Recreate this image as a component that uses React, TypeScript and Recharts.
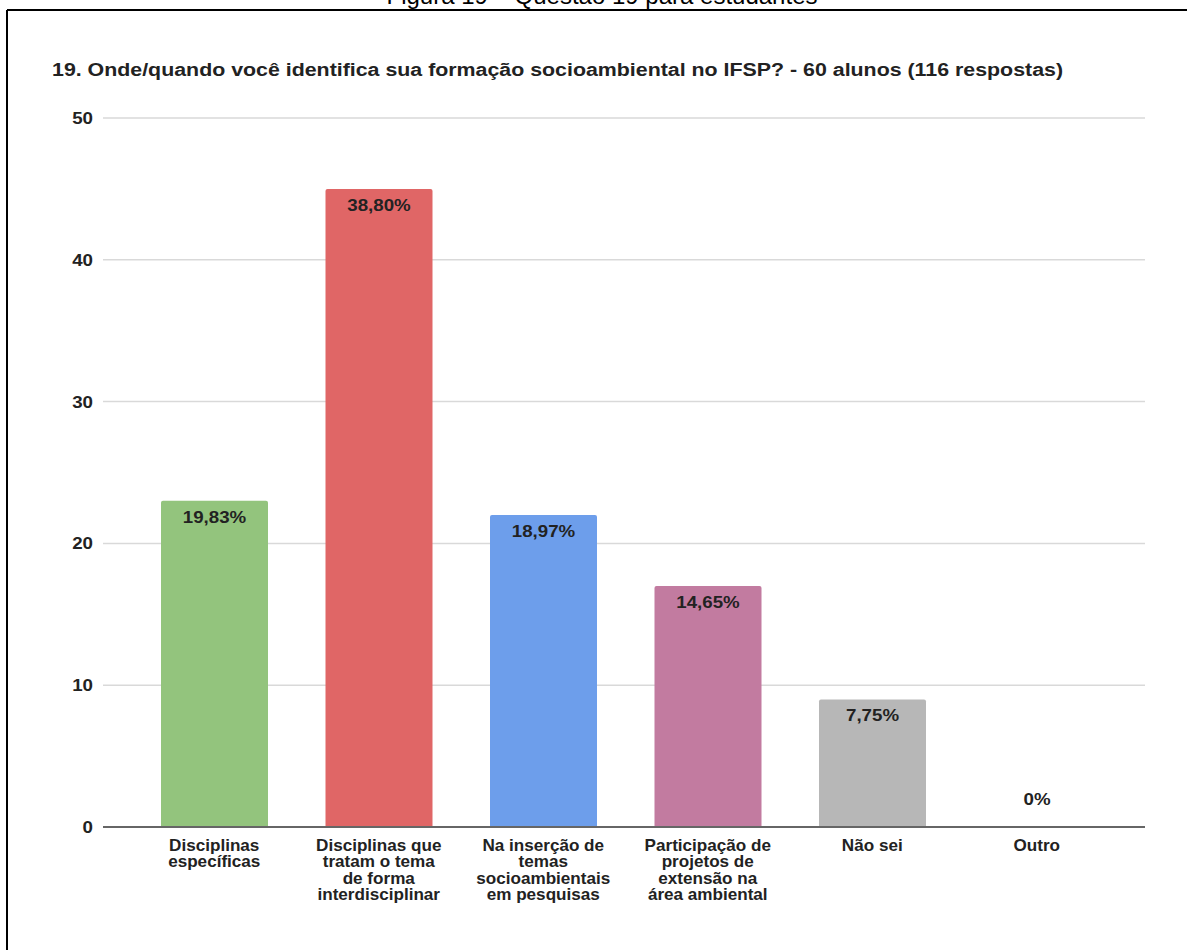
import { BarChart, Bar, XAxis, YAxis, CartesianGrid, Cell } from "recharts";

const categories = [
  "Disciplinas\nespecíficas",
  "Disciplinas que\ntratam o tema\nde forma\ninterdisciplinar",
  "Na inserção de\ntemas\nsocioambientais\nem pesquisas",
  "Participação de\nprojetos de\nextensão na\nárea ambiental",
  "Não sei",
  "Outro",
];
const responses = [23, 45, 22, 17, 9, 0];
const percentLabels = ["19,83%", "38,80%", "18,97%", "14,65%", "7,75%", "0%"];
const barColors = ["#93c47d", "#e06666", "#6d9eeb", "#c27ba0", "#b7b7b7", "#ffffff"];
const yTicks = [0, 10, 20, 30, 40, 50];

const chartTitle =
  "19. Onde/quando você identifica sua formação socioambiental no IFSP? - 60 alunos (116 respostas)";
const caption = "Figura 19 – Questão 19 para estudantes";

const font = "'Liberation Sans', Arial, sans-serif";

const data = categories.map((name, i) => ({
  name,
  value: responses[i],
  pct: percentLabels[i],
}));

// the source image is stretched a little horizontally, so texts get a scaleX
function CategoryTick(props: any) {
  const { x, y, payload } = props;
  const lines = String(payload.value).split("\n");
  return (
    <g transform={`translate(${x},${y}) scale(1.07,1)`}>
      <text
        x={0}
        y={0}
        textAnchor="middle"
        fontFamily={font}
        fontSize={16}
        fontWeight="bold"
        fill="#222"
      >
        {lines.map((line, i) => (
          <tspan key={i} x={0} dy={i === 0 ? 24 : 16.5}>
            {line}
          </tspan>
        ))}
      </text>
    </g>
  );
}

function ValueTick(props: any) {
  const { x, y, payload } = props;
  return (
    <g transform={`translate(${x},${y}) scale(1.1,1)`}>
      <text
        x={0}
        y={6}
        textAnchor="end"
        fontFamily={font}
        fontSize={17}
        fontWeight="bold"
        fill="#222"
      >
        {payload.value}
      </text>
    </g>
  );
}

function PctLabel(props: any) {
  const { x, y, width, index } = props;
  const cx = Number(x) + Number(width) / 2;
  const ty = responses[index] > 0 ? Number(y) + 22 : Number(y) - 21;
  return (
    <g transform={`translate(${cx},${ty}) scale(1.1,1)`}>
      <text
        x={0}
        y={0}
        textAnchor="middle"
        fontFamily={font}
        fontSize={17}
        fontWeight="bold"
        fill="#222"
      >
        {percentLabels[index]}
      </text>
    </g>
  );
}

export default function App() {
  return (
    <div
      style={{
        position: "absolute",
        left: 0,
        top: 0,
        width: 1187,
        height: 950,
        overflow: "hidden",
        background: "#fff",
        fontFamily: font,
      }}
    >
      <svg width={1187} height={950} style={{ position: "absolute", left: 0, top: 0 }}>
        <text
          x={602}
          y={4}
          textAnchor="middle"
          fontFamily={font}
          fontSize={24}
          fill="#000"
        >
          {caption}
        </text>
        <line x1={7} y1={10} x2={1187} y2={10} stroke="#000" strokeWidth={2} />
        <line x1={7} y1={10} x2={7} y2={950} stroke="#000" strokeWidth={2} />
        <text
          x={52}
          y={76}
          fontFamily={font}
          fontSize={18}
          fontWeight="bold"
          fill="#222"
          textLength={1011}
          lengthAdjust="spacingAndGlyphs"
        >
          {chartTitle}
        </text>
      </svg>
      <div style={{ position: "absolute", left: 0, top: 0 }}>
        <BarChart
          width={1187}
          height={950}
          data={data}
          margin={{ top: 118, right: 42, bottom: 23, left: 43 }}
          barSize={107}
        >
          <CartesianGrid vertical={false} stroke="#d9d9d9" strokeWidth={1.5} />
          <XAxis
            dataKey="name"
            interval={0}
            height={100}
            padding={{ left: 29, right: 26 }}
            tickLine={false}
            tickSize={0}
            tickMargin={0}
            axisLine={{ stroke: "#666", strokeWidth: 2 }}
            tick={<CategoryTick />}
          />
          <YAxis
            width={60}
            domain={[0, 50]}
            ticks={yTicks}
            axisLine={false}
            tickLine={false}
            tickSize={0}
            tickMargin={10}
            tick={<ValueTick />}
          />
          <Bar
            dataKey="value"
            radius={[2, 2, 0, 0]}
            minPointSize={1}
            isAnimationActive={false}
            label={(p: any) => <PctLabel key={p.index} {...p} />}
          >
            {data.map((d, i) => (
              <Cell key={d.name} fill={barColors[i]} />
            ))}
          </Bar>
        </BarChart>
      </div>
    </div>
  );
}
